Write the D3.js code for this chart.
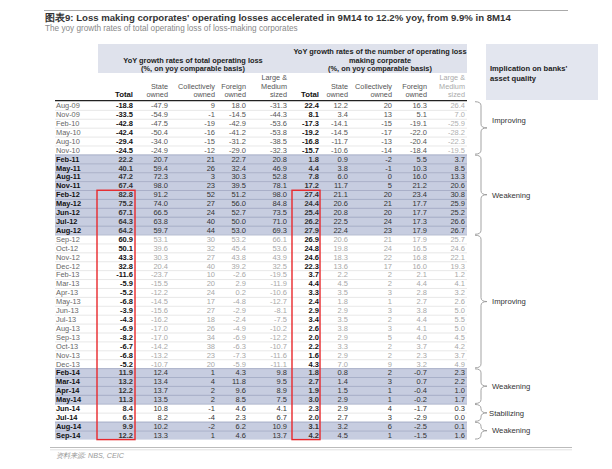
<!DOCTYPE html>
<html><head><meta charset="utf-8">
<script src="https://cdn.jsdelivr.net/npm/d3@7"></script>
<style>
body{margin:0;background:#fff;}
text{font-family:"Liberation Sans",Arial,sans-serif;}
</style></head>
<body><svg id="c" width="612" height="469"></svg>
<script>
const dates = ["Aug-09","Nov-09","Feb-10","May-10","Aug-10","Nov-10","Feb-11","May-11","Aug-11","Nov-11","Feb-12","May-12","Jun-12","Jul-12","Aug-12","Sep-12","Oct-12","Nov-12","Dec-12","Feb-13","Mar-13","Apr-13","May-13","Jun-13","Jul-13","Aug-13","Sep-13","Oct-13","Nov-13","Dec-13","Feb-14","Mar-14","Apr-14","May-14","Jun-14","Jul-14","Aug-14","Sep-14"];
const lossTotal   = ["-18.8","-33.5","-42.8","-42.4","-29.4","-24.5","22.2","40.1","47.2","67.4","82.8","75.2","67.1","64.3","64.2","60.9","50.1","43.3","32.8","-11.6","-5.9","-5.2","-6.8","-3.9","-4.3","-6.9","-8.2","-6.7","-6.8","-5.2","11.9","13.2","12.2","11.3","8.4","6.5","9.9","12.2"];
const lossState   = ["-47.9","-54.9","-47.5","-50.4","-34.0","-24.9","20.7","59.4","72.3","98.0","91.2","74.0","66.5","63.8","59.7","53.1","39.6","30.3","20.4","-23.7","-15.5","-12.2","-14.5","-15.6","-16.2","-17.0","-17.0","-14.2","-13.2","-10.7","12.4","13.4","13.7","13.5","10.8","8.2","10.2","13.3"];
const lossColl    = ["9","-1","-19","-16","-15","-12","21","26","3","23","52","27","24","40","44","30","32","27","40","10","20","24","17","27","18","26","34","38","23","20","1","4","2","2","-1","-4","-2","1"];
const lossForeign = ["18.0","-14.5","-42.9","-41.2","-31.2","-29.0","22.7","32.4","30.3","39.5","51.2","56.0","52.7","50.0","53.0","53.2","45.4","43.8","39.2","-2.6","2.9","0.2","-4.8","-2.9","-2.4","-4.9","-6.9","-6.3","-7.3","-5.9","4.3","11.8","9.6","8.5","4.6","2.3","6.2","4.6"];
const lossLarge   = ["-31.3","-44.3","-53.6","-53.8","-38.5","-32.3","20.8","46.9","52.8","78.1","98.0","84.8","73.5","71.0","69.3","66.1","53.6","43.9","32.5","-19.5","-11.9","-10.6","-12.7","-8.1","-7.5","-10.2","-12.2","-10.7","-11.6","-11.1","9.8","9.5","8.9","7.5","4.1","6.7","10.9","13.7"];
const numTotal    = ["22.4","8.1","-17.3","-19.2","-16.8","-15.7","1.8","4.4","7.8","17.2","27.4","24.4","25.4","26.2","27.9","26.9","24.8","24.6","22.3","3.7","4.4","3.3","2.4","2.9","3.4","2.6","2.0","2.2","1.6","4.3","1.8","2.7","1.9","3.0","2.3","2.0","3.1","4.2"];
const numState    = ["12.2","3.4","-14.1","-14.5","-11.7","-10.6","0.9","3.8","6.0","11.7","21.1","20.6","20.8","22.5","22.4","20.6","19.8","18.3","13.6","2.2","4.5","3.5","1.8","2.9","3.5","3.8","2.9","3.3","2.9","7.0","0.8","1.4","1.5","2.9","2.9","2.7","3.2","4.5"];
const numColl     = ["20","13","-15","-17","-13","-14","-2","-1","0","5","20","21","20","24","23","21","24","22","17","2","2","3","1","3","2","3","5","2","2","9","2","3","1","1","4","3","6","1"];
const numForeign  = ["16.3","5.1","-19.1","-22.0","-20.4","-18.4","5.5","10.3","16.0","21.2","23.4","17.7","17.7","17.3","17.9","17.9","16.5","16.8","16.0","2.1","4.4","2.8","2.7","3.8","4.4","4.1","4.0","3.7","2.3","3.2","-0.7","0.7","-0.4","-0.2","-1.7","-2.9","-2.5","-1.5"];
const numLarge    = ["26.4","7.0","-25.9","-28.2","-22.3","-19.5","3.7","8.5","13.3","20.6","30.8","25.9","25.2","26.6","26.7","25.7","24.6","22.1","19.3","1.2","4.1","3.2","2.6","5.0","5.5","5.0","4.5","4.2","3.7","4.9","2.3","2.2","1.0","1.7","0.3","0.0","0.1","1.6"];
const shadedRows  = ["Feb-11","May-11","Aug-11","Nov-11","Feb-12","May-12","Jun-12","Jul-12","Aug-12","Feb-14","Mar-14","Apr-14","May-14","Aug-14","Sep-14"];
const boldRows    = ["Jun-14","Jul-14"];
const phaseLabels = ["Improving","Weakening","Improving","Weakening","Stabilizing","Weakening"];
const phaseStart  = ["Aug-09","Feb-11","Sep-12","Feb-14","Jun-14","Aug-14"];
const phaseEnd    = ["Nov-10","Aug-12","Dec-13","May-14","Jul-14","Sep-14"];
const colKeys = ["lt","ls","lc","lf","ll","nt","ns","nc","nf","nl"];
const colHeaders = [["Total"],["State","owned"],["Collectively","owned"],["Foreign","owned"],["Large &","Medium","sized"],["Total"],["State","owned"],["Collectively","owned"],["Foreign","owned"],["Large &","Medium","sized"]];
const colData = [lossTotal,lossState,lossColl,lossForeign,lossLarge,numTotal,numState,numColl,numForeign,numLarge];
const groupTitles = [["YoY growth rates of total operating loss","(%, on yoy comparable basis)"],["YoY growth rates of the number of operating loss","making corporate","(%, on yoy comparable basis)"]];
const highlightFrom = "Feb-12";

const svg = d3.select("#c");
const y = d3.scaleBand().domain(dates).range([101.2, 439.6]).padding(0);
const x = d3.scaleOrdinal().domain(colKeys).range([133,168,215,246,287,319,348,392,427,465]);
const L = 55, R = 467;
const isShaded = d => shadedRows.includes(d);

// title
svg.append("line").attr("x1",44).attr("x2",568).attr("y1",10.5).attr("y2",10.5).attr("stroke","#aaa").attr("stroke-width",1);
svg.append("text").attr("x",45).attr("y",21).attr("font-size",9.6).attr("font-weight","bold").attr("fill","#333")
  .text("图表9: Loss making corporates' operating losses accelerated in 9M14 to 12.2% yoy, from 9.9% in 8M14");
svg.append("text").attr("x",45).attr("y",31).attr("font-size",8.2).attr("fill","#888")
  .text("The yoy growth rates of total operating loss of loss-making corporates");

// header bands
svg.append("rect").attr("x",98).attr("y",44).attr("width",R-98).attr("height",29).attr("fill","#dfe2ec");
svg.append("rect").attr("x",486).attr("y",44).attr("width",112).attr("height",56).attr("fill","#e3e6ef");
svg.append("text").attr("x",490).attr("y",71).attr("font-size",7.6).attr("font-weight","bold").attr("fill","#222").text("Implication on banks'");
svg.append("text").attr("x",490).attr("y",80.5).attr("font-size",7.6).attr("font-weight","bold").attr("fill","#222").text("asset quality");

const gcx = [193, 380];
groupTitles.forEach((lines,gi)=>{
  const start = gi===0 ? 62.5 : 54;
  lines.forEach((t,li)=>{
    svg.append("text").attr("x",gcx[gi]).attr("y",start+li*8.5).attr("text-anchor","middle")
      .attr("font-size",7.4).attr("font-weight","bold").attr("fill","#222").text(t);
  });
});

// column headers
colKeys.forEach((k,i)=>{
  const lines = colHeaders[i];
  const isTotal = lines[0]==="Total";
  const col = (i===9) ? "#aaa" : (isTotal ? "#111" : "#555");
  lines.forEach((t,li)=>{
    svg.append("text").attr("x",x(k)).attr("y",97 - (lines.length-1-li)*8.3).attr("text-anchor","end")
      .attr("font-size",isTotal?7.8:7.3).attr("font-weight",isTotal?"bold":"normal").attr("fill",col).text(t);
  });
});

// row backgrounds
const rows = svg.append("g");
dates.forEach((d,i)=>{
  if (isShaded(d)) rows.append("rect").attr("x",L).attr("y",y(d)).attr("width",R-L).attr("height",y.bandwidth()).attr("fill","#c7cde0");
});
// row separators
dates.forEach((d,i)=>{
  if (i===0) return;
  const dark = isShaded(d) || isShaded(dates[i-1]);
  rows.append("line").attr("x1",L).attr("x2",R).attr("y1",y(d)+0.25).attr("y2",y(d)+0.25)
    .attr("stroke", dark ? "#8d96b3" : "#d6d6d6").attr("stroke-width",0.6);
});
// header rule
svg.append("line").attr("x1",L).attr("x2",R).attr("y1",100.6).attr("y2",100.6).attr("stroke","#222").attr("stroke-width",1.3);

// cells
dates.forEach((d,i)=>{
  const sh = isShaded(d), bd = boldRows.includes(d);
  const light = i>=15 && i<=29;
  const early = i<=5;
  const cy = y(d)+y.bandwidth()/2+2.6;
  svg.append("text").attr("x",56).attr("y",cy).attr("font-size",7.4)
    .attr("font-weight",(sh||bd)?"bold":"normal").attr("fill",(sh||bd)?"#111":"#666").text(d);
  colKeys.forEach((k,ci)=>{
    const isTot = (ci===0||ci===5);
    let fill = "#333";
    if (!sh && !bd) {
      if (isTot) fill = "#111";
      else if (light) fill = "#a8a8a8";
      else if (early) fill = (ci===9) ? "#b0b0b0" : "#555";
    }
    svg.append("text").attr("x",x(k)).attr("y",cy).attr("text-anchor","end").attr("font-size",7.5)
      .attr("font-weight",isTot?"bold":"normal").attr("fill",fill).text(colData[ci][i]);
  });
});

// red boxes
const yTop = y(highlightFrom), yBot = y(dates[dates.length-1])+y.bandwidth();
[[97,135],[292,320]].forEach(([a,b])=>{
  svg.append("rect").attr("x",a).attr("y",yTop).attr("width",b-a).attr("height",yBot-yTop)
    .attr("fill","none").attr("stroke","#e8282c").attr("stroke-width",1.4);
});

// braces
const xb = 475, xs = 481, xt = 487;
phaseLabels.forEach((lab,pi)=>{
  const y0 = y(phaseStart[pi])+0.5, y1 = y(phaseEnd[pi])+y.bandwidth()-0.5;
  const ym = (y0+y1)/2;
  const r = Math.min(4,(y1-y0)/4);
  const p = `M${xb},${y0} Q${xs},${y0} ${xs},${y0+r} L${xs},${ym-r} Q${xs},${ym} ${xt},${ym} Q${xs},${ym} ${xs},${ym+r} L${xs},${y1-r} Q${xs},${y1} ${xb},${y1}`;
  svg.append("path").attr("d",p).attr("fill","none").attr("stroke","#999").attr("stroke-width",0.9);
  const ly = pi===0 ? ym-8 : ym;
  svg.append("text").attr("x",lab==="Stabilizing"?489:492).attr("y",ly+2.8).attr("font-size",7.7).attr("fill","#333").text(lab);
});

// footer
svg.append("line").attr("x1",50).attr("x2",572).attr("y1",447.5).attr("y2",447.5).attr("stroke","#bbb").attr("stroke-width",1);
svg.append("line").attr("x1",50).attr("x2",572).attr("y1",449.8).attr("y2",449.8).attr("stroke","#e2e2e2").attr("stroke-width",1);
svg.append("text").attr("x",56).attr("y",458).attr("font-size",7.2).attr("fill","#999").attr("font-style","italic").text("资料来源: NBS, CEIC");
</script></body></html>
